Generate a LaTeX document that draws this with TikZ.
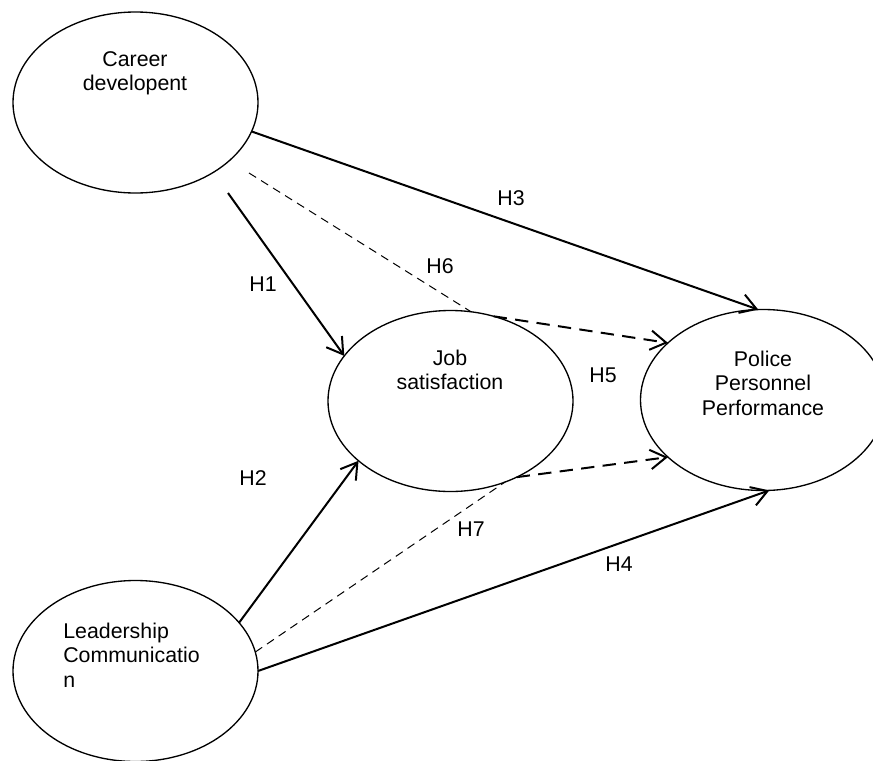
\documentclass[tikz,border=0pt]{standalone}
\usepackage{fontspec}
\setmainfont{Liberation Sans}
\usetikzlibrary{shapes.geometric,arrows.meta}

\tikzset{
  latent/.style={draw,ellipse,line width=0.8pt,inner sep=0pt,outer sep=0pt,
    minimum width=147pt,minimum height=108.6pt},
  txt/.style={align=center,inner sep=0pt,font=\fontsize{12.8}{14.7}\selectfont},
  hlabel/.style={inner sep=0pt,font=\fontsize{12.8}{14.7}\selectfont},
  solidarr/.style={line width=1.2pt,-{Straight Barb[length=9.4pt,width=11.6pt]}},
  thindash/.style={line width=0.6pt,dash pattern=on 5pt off 3.5pt},
  thickdash/.style={line width=1.2pt,dash pattern=on 8pt off 5pt,
    -{Straight Barb[length=9.4pt,width=11.6pt]}}
}

\begin{document}
\begin{tikzpicture}[x=0.6pt,y=-0.6pt]
\useasboundingbox (0,0) rectangle (873,761);
\clip (0,0) rectangle (873,761);
% constructs
\node[latent] (cd) at (135.5,102.5) {};
\node[latent] (js) at (450.5,401) {};
\node[latent] (pp) at (763,400) {};
\node[latent] (lc) at (135.5,671) {};
\node[txt] (cdt) at (135,73.5) {Career\\developent};
\node[txt] (jst) at (450,370) {Job\\satisfaction};
\node[txt] (ppt) at (763,383) {Police\\Personnel\\Performance};
\node[txt,align=left,anchor=west] (lct) at (63,655) {Leadership\\Communicatio\\n};
% free ends
\coordinate (h1s) at (228,193);
\coordinate (h6s) at (249,173);
% paths
\draw[solidarr] (h1s) -- (js.157);
\draw[solidarr] (cd.-14) -- (pp.93);
\draw[thindash] (h6s) -- (js.77);
\draw[thickdash] (js.63) -- (pp.149);
\draw[solidarr] (lc.25) -- (js.213);
\draw[thindash] (lc.9) -- (js.-56);
\draw[thickdash] (js.-49) -- (pp.211);
\draw[solidarr] (lc.east) -- (pp.-86);
% hypotheses
\node[hlabel] (h1) at (263,284) {H1};
\node[hlabel] (h2) at (253,478) {H2};
\node[hlabel] (h3) at (511,198) {H3};
\node[hlabel] (h4) at (619,564) {H4};
\node[hlabel] (h5) at (603,375) {H5};
\node[hlabel] (h6) at (440,266) {H6};
\node[hlabel] (h7) at (471,529) {H7};
\end{tikzpicture}
\end{document}
